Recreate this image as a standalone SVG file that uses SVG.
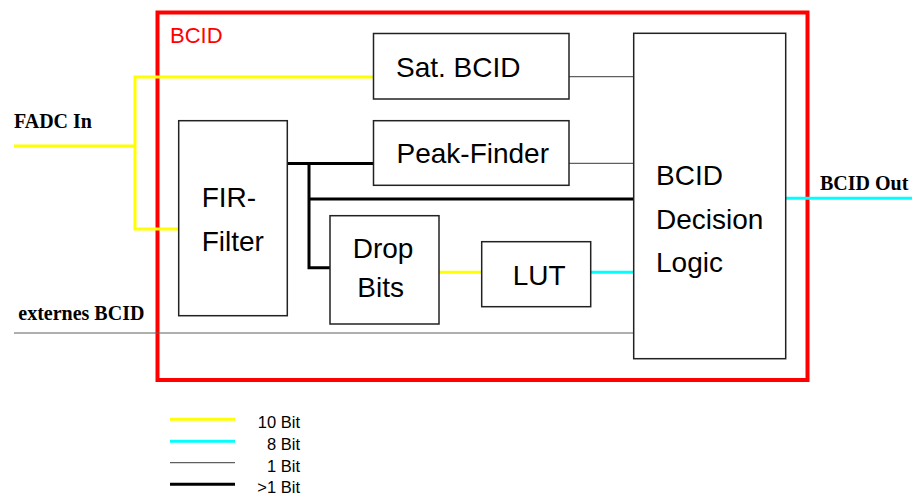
<svg xmlns="http://www.w3.org/2000/svg" width="912" height="495" viewBox="0 0 912 495">
<style>
.box{fill:#fff;stroke:#222;stroke-width:1.5}
.t{font-family:"Liberation Sans",Arial,sans-serif;font-size:28px;fill:#000}
.lab{font-family:"Liberation Serif","Times New Roman",serif;font-size:20px;font-weight:bold;fill:#000}
.leg{font-family:"Liberation Sans",Arial,sans-serif;font-size:16.5px;fill:#000;text-anchor:end}
.y{stroke:#ffff00;stroke-width:3;fill:none}
.c{stroke:#00ffff;stroke-width:3;fill:none}
.g{stroke:#606060;stroke-width:1.2;fill:none}
.k{stroke:#000;stroke-width:3;fill:none}
</style>
<rect width="912" height="495" fill="#fff"/>
<g id="bcid-frame">
<rect x="157.5" y="12.5" width="650" height="367.5" fill="none" stroke="#ff0000" stroke-width="4"/>
<text x="170" y="42.5" font-family="Liberation Sans, Arial, sans-serif" font-size="22" fill="#ff0000">BCID</text>
</g>
<g id="connectors">
<polyline class="y" points="14,146 135,146"/>
<polyline class="y" points="373.5,77 135,77 135,229 178.7,229"/>
<line class="g" x1="569" y1="76.7" x2="633.7" y2="76.7"/>
<line class="g" x1="569" y1="163.3" x2="633.7" y2="163.3"/>
<polyline class="k" points="287.3,163.5 373.5,163.5"/>
<polyline class="k" points="309,163.5 309,267.7 330,267.7"/>
<line class="k" x1="309" y1="199" x2="633.7" y2="199"/>
<line class="y" x1="439" y1="272.3" x2="481.7" y2="272.3"/>
<line class="c" x1="590.7" y1="272.3" x2="633.7" y2="272.3"/>
<line class="c" x1="785.7" y1="198.3" x2="912" y2="198.3"/>
<line class="g" x1="14" y1="333" x2="633.7" y2="333"/>
</g>
<g id="sat-bcid">
<rect class="box" x="373.5" y="33.5" width="195.5" height="65.5"/>
<text class="t" x="396" y="77">Sat. BCID</text>
</g>
<g id="peak-finder">
<rect class="box" x="373.5" y="120.7" width="195.5" height="64.6"/>
<text class="t" x="396.5" y="163.3">Peak-Finder</text>
</g>
<g id="fir-filter">
<rect class="box" x="178.7" y="120.7" width="108.6" height="195"/>
<text class="t" x="201.7" y="206.7">FIR-</text>
<text class="t" x="201.7" y="250.7">Filter</text>
</g>
<g id="drop-bits">
<rect class="box" x="330" y="215.7" width="109" height="108.3"/>
<text class="t" x="352.7" y="258.3">Drop</text>
<text class="t" x="357.3" y="296.7">Bits</text>
</g>
<g id="lut">
<rect class="box" x="481.7" y="241.7" width="109" height="65"/>
<text class="t" x="512.7" y="285">LUT</text>
</g>
<g id="decision-logic">
<rect class="box" x="633.7" y="33.3" width="152" height="325.4"/>
<text class="t" x="656" y="185">BCID</text>
<text class="t" x="656" y="229.3">Decision</text>
<text class="t" x="656" y="271.7">Logic</text>
</g>
<g id="labels">
<text class="lab" x="14" y="128">FADC In</text>
<text class="lab" x="18.3" y="320">externes BCID</text>
<text class="lab" x="820" y="190">BCID Out</text>
</g>
<g id="legend">
<line class="y" x1="170" y1="419.3" x2="235" y2="419.3"/>
<line class="c" x1="170" y1="441.3" x2="235" y2="441.3"/>
<line class="g" x1="170" y1="462.7" x2="235" y2="462.7"/>
<line class="k" x1="170" y1="484.3" x2="235" y2="484.3"/>
<text class="leg" x="300" y="428.3">10 Bit</text>
<text class="leg" x="300" y="450">8 Bit</text>
<text class="leg" x="300" y="471.7">1 Bit</text>
<text class="leg" x="300" y="492.7">&gt;1 Bit</text>
</g>
</svg>
